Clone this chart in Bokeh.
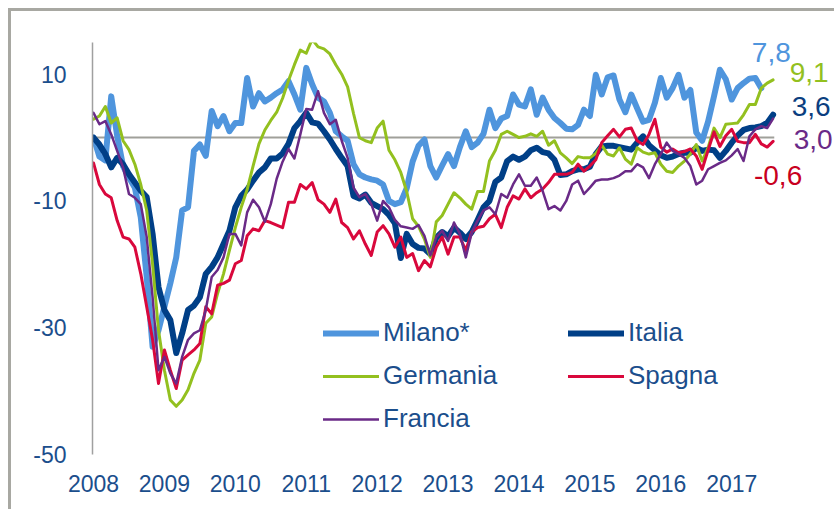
from bokeh.plotting import figure
from bokeh.models import Range1d, FixedTicker, Legend, LegendItem, Label
from bokeh.embed import file_html
from bokeh.resources import INLINE

years = [2008, 2009, 2010, 2011, 2012, 2013, 2014, 2015, 2016, 2017]
y_ticks = [-50, -30, -10, 10]

milano = [0.0, -3.0, -3.6, 6.5, 0.3, -4.5, -6.3, -7.9, -12.6, -22.0,
          -33.0, -30.4, -26.7, -23.0, -18.9, -11.5, -11.0, -2.1, -1.1, -2.9,
          4.2, 1.8, 3.4, 1.0, 2.3, 2.3, 9.4, 4.9, 7.0, 5.7,
          6.3, 7.0, 7.6, 8.9, 6.8, 4.4, 11.0, 8.4, 6.3, 5.7,
          3.9, 1.0, 0.2, -0.5, -4.2, -5.8, -6.3, -6.6, -6.8, -7.4,
          -10.0, -10.5, -10.2, -8.0, -3.8, -1.3, -0.3, -4.5, -6.3, -4.4,
          -2.6, -4.5, -1.5, 1.0, -1.5, -0.8, 0.6, 4.4, 1.5, 3.0,
          3.4, 6.8, 5.2, 4.9, 7.6, 3.6, 6.3, 4.4, 3.1, 2.3,
          1.4, 1.3, 2.0, 4.4, 3.4, 9.9, 6.8, 9.5, 9.8, 6.0,
          4.0, 6.8, 4.6, 2.5, 2.8, 5.5, 9.4, 6.3, 7.8, 9.9,
          6.3, 7.5, 0.8, -0.5, 2.5, 6.5, 10.7, 9.2, 6.0, 7.8,
          8.6, 9.3, 9.4, 7.8]

italia = [0.0, -1.1, -2.6, -4.7, -3.2, -4.2, -5.8, -7.1, -8.4, -9.4,
          -15.2, -23.6, -27.2, -28.8, -34.0, -30.9, -27.2, -26.5, -25.2, -21.5,
          -20.4, -18.9, -16.8, -14.7, -11.0, -9.2, -8.2, -6.8, -5.5, -4.7,
          -3.3, -3.3, -2.5, -1.0, 1.5, 2.6, 3.9, 2.4, 2.2, 1.0,
          -0.3, -1.8, -3.2, -4.5, -9.2, -9.6, -9.0, -10.3, -10.8, -11.3,
          -12.2, -13.5, -19.0, -15.2, -16.8, -17.4, -17.5, -18.4, -15.8, -14.9,
          -15.6, -14.2, -15.0, -16.0, -14.9, -13.0, -11.0, -10.0, -7.0, -6.3,
          -3.7, -3.0, -3.5, -3.0, -2.0, -1.6, -2.3, -2.5, -3.5, -5.9,
          -5.8, -5.3, -5.0, -5.0, -4.6, -2.6, -1.4, -1.3, -1.3, -1.5,
          -1.7, -1.9, -0.8, 0.2, -1.2, -2.0, -2.8, -3.2, -3.0, -2.6,
          -2.4, -2.4, -1.6, -2.1, -1.9, -2.0, -3.2, -2.1, -0.8, 0.3,
          1.2, 1.5, 1.6, 1.8, 2.3, 3.6]

germania = [2.9, 3.4, 4.9, 2.3, 3.1, -0.5, -1.9, -4.2, -7.4, -11.5,
            -20.0, -30.4, -36.7, -41.4, -42.4, -41.4, -39.8, -37.2, -35.1, -29.3,
            -28.3, -24.6, -21.5, -17.8, -14.2, -11.0, -8.2, -4.5, -1.0, 1.2,
            2.7, 4.0, 6.2, 9.0, 11.5, 13.8, 13.3, 15.5, 14.3, 14.0,
            13.2, 11.5, 10.0, 8.0, 3.8, 0.0, -0.5, -0.8, 1.5, 2.6,
            -2.0, -3.5, -5.5, -8.5, -12.8, -14.0, -16.0, -18.9, -13.3, -12.3,
            -10.5, -8.7, -9.5, -10.5, -11.3, -8.5, -8.5, -3.7, -2.0, 0.5,
            1.0, 0.5, 0.0, 0.2, 0.6, 0.2, 1.0, -1.2, -0.5, -2.4,
            -3.2, -4.1, -3.0, -3.2, -3.2, -2.5, -1.2, -2.6, -2.9, -1.6,
            -3.4, -4.2, -1.6, -2.3, -2.6, -2.4, -4.2, -5.3, -5.5, -4.5,
            -3.7, -2.6, -1.1, -3.7, -1.6, 1.5, 0.0, 2.1, 2.2, 2.3,
            3.6, 5.2, 5.2, 7.8, 8.6, 9.1]

spagna = [-4.0, -7.4, -8.9, -9.5, -13.1, -15.7, -16.0, -17.3, -21.5, -26.7,
          -31.9, -38.8, -33.5, -36.7, -39.6, -35.1, -34.3, -33.5, -32.5, -26.7,
          -27.8, -23.3, -23.0, -22.5, -19.9, -19.4, -15.5, -14.4, -14.7, -13.1,
          -13.4, -13.8, -14.2, -10.2, -10.2, -7.4, -8.1, -7.1, -9.8, -10.5,
          -11.8, -9.7, -13.4, -14.2, -16.0, -14.7, -16.8, -18.6, -14.9, -13.9,
          -15.2, -17.3, -15.7, -18.9, -18.3, -21.0, -19.4, -20.4, -17.3, -15.7,
          -18.4, -15.7, -15.7, -17.8, -14.9, -14.2, -14.0, -12.8, -12.1, -14.2,
          -11.0, -9.2, -9.7, -8.1, -9.5, -8.7, -8.1, -7.1, -5.8, -5.8,
          -5.8, -5.5, -4.2, -5.3, -4.5, -3.5, -0.8, 0.3, 1.3, 0.1,
          1.3, 1.5, -0.5, -1.1, 0.5, 2.9, -1.5, -2.3, -1.8, -2.4,
          -2.2, -1.8, -2.9, -5.0, -2.0, 0.9, -1.4, 0.3, 1.3, -0.6,
          -0.8, -0.8, 0.5, -1.0, -1.5, -0.6]

francia = [3.9, 2.1, 2.6, 0.5, -2.1, -4.7, -8.9, -9.5, -10.5, -15.7,
           -25.2, -36.7, -34.6, -37.2, -38.8, -34.6, -31.9, -30.9, -30.4, -27.2,
           -22.0, -20.9, -18.9, -15.2, -15.2, -17.0, -11.8, -9.8, -11.0, -13.3,
           -10.5, -6.5, -3.8, -1.8, -3.3, 0.5, 4.5, 4.4, 7.3, 3.9,
           2.1, 2.8, -0.5, -3.2, -7.9, -9.4, -8.9, -10.5, -13.1, -10.0,
           -11.0, -13.0, -14.0, -14.2, -14.4, -13.8, -15.5, -18.6, -15.7, -14.7,
           -16.3, -13.4, -15.2, -18.9, -15.0, -13.1, -11.5, -11.0, -12.1, -8.9,
           -9.5, -7.4, -5.8, -7.6, -7.6, -6.3, -8.4, -11.3, -10.8, -11.5,
           -10.0, -7.4, -6.8, -8.9, -7.9, -6.8, -6.6, -6.6, -6.4, -6.0,
           -5.3, -5.3, -4.2, -4.7, -6.4, -4.2, -2.6, -0.8, -2.1, -2.6,
           -3.2, -4.5, -7.4, -6.8, -5.0, -4.5, -4.0, -3.6, -2.8, -1.8,
           -3.7, 0.2, 1.3, 1.8, 1.5, 3.0]

names = ["Milano*", "Italia", "Germania", "Spagna", "Francia"]
series = [milano, italia, germania, spagna, francia]

TEXT = "#1B4E8C"
FONT = "Liberation Sans"
colors = {"Milano*": "#4F95DD", "Italia": "#003F87", "Germania": "#93C01F",
          "Spagna": "#D9083C", "Francia": "#6A2A87"}
widths = {"Milano*": 6, "Italia": 6, "Germania": 3, "Spagna": 3, "Francia": 2.5}
label_colors = {"Milano*": "#4F95DD", "Italia": "#0B3F80", "Germania": "#93C01F",
                "Spagna": "#C8001E", "Francia": "#6A2A87"}
label_offsets = {"Milano*": (10, 36), "Germania": (36, 7), "Italia": (38, 8),
                 "Francia": (40, -21), "Spagna": (5, -34)}


def months(n):
    return [years[0] + k / 12 for k in range(n)]


n_max = max(len(s) for s in series)
x_start = years[0] - 0.17 / 12
x_last = months(n_max)[-1]

p = figure(width=826, height=501, output_backend="svg", toolbar_location=None,
           x_range=Range1d(x_start, years[0] + 125.9 / 12),
           y_range=Range1d(-50, 15))
p.styles = {"border-top": "3px solid #A8A8A2", "border-left": "3px solid #A8A8A2",
            "margin-top": "8px", "margin-left": "8px"}
p.min_border_left = 81
p.min_border_top = 31
p.min_border_right = 0
p.min_border_bottom = 58
p.outline_line_color = None
p.background_fill_color = "white"
p.border_fill_color = "white"
p.xgrid.visible = False
p.ygrid.visible = False

p.xaxis.ticker = FixedTicker(ticks=years)
p.yaxis.ticker = FixedTicker(ticks=y_ticks)
p.yaxis.major_label_overrides = {t: str(t) for t in y_ticks}
for ax in (p.xaxis[0], p.yaxis[0]):
    ax.major_tick_line_color = None
    ax.minor_tick_line_color = None
    ax.major_label_text_font = FONT
    ax.major_label_text_font_size = "23px"
    ax.major_label_text_color = TEXT
p.xaxis.axis_line_color = None
p.xaxis.major_label_standoff = 14
p.yaxis.axis_line_color = "#A0A0A0"
p.yaxis.axis_line_width = 1.5
p.yaxis.major_label_standoff = 20

# zero reference line, spanning from the axis to the last month
p.line([x_start, x_last + 0.2 / 12], [0, 0], line_color="#A0A09A", line_width=2)

renderers = {}
for name, vals in zip(names, series):
    r = p.line(months(len(vals)), vals, line_color=colors[name],
               line_width=widths[name], line_join="round", line_cap="round")
    renderers[name] = r

for name, vals in zip(names, series):
    dx, dy = label_offsets[name]
    txt = f"{vals[-1]:.1f}".replace(".", ",")
    p.add_layout(Label(x=months(len(vals))[-1], y=vals[-1], text=txt,
                       x_offset=dx, y_offset=dy, text_align="center",
                       text_baseline="middle", text_font=FONT,
                       text_font_size="28px", text_color=label_colors[name]))


def make_legend(items, loc):
    lg = Legend(items=[LegendItem(label=n, renderers=[renderers[n]]) for n in items],
                location=loc, orientation="vertical")
    lg.label_text_font = FONT
    lg.label_text_font_size = "26px"
    lg.label_text_color = TEXT
    lg.glyph_width = 56
    lg.glyph_height = 30
    lg.label_height = 30
    lg.spacing = 12
    lg.padding = 0
    lg.margin = 0
    lg.label_standoff = 4
    lg.background_fill_alpha = 0
    lg.border_line_color = None
    return lg


p.add_layout(make_legend(["Milano*", "Germania", "Francia"], (231, 20)))
p.add_layout(make_legend(["Italia", "Spagna"], (476, 63)))

open("out.html", "w").write(file_html(p, INLINE))
